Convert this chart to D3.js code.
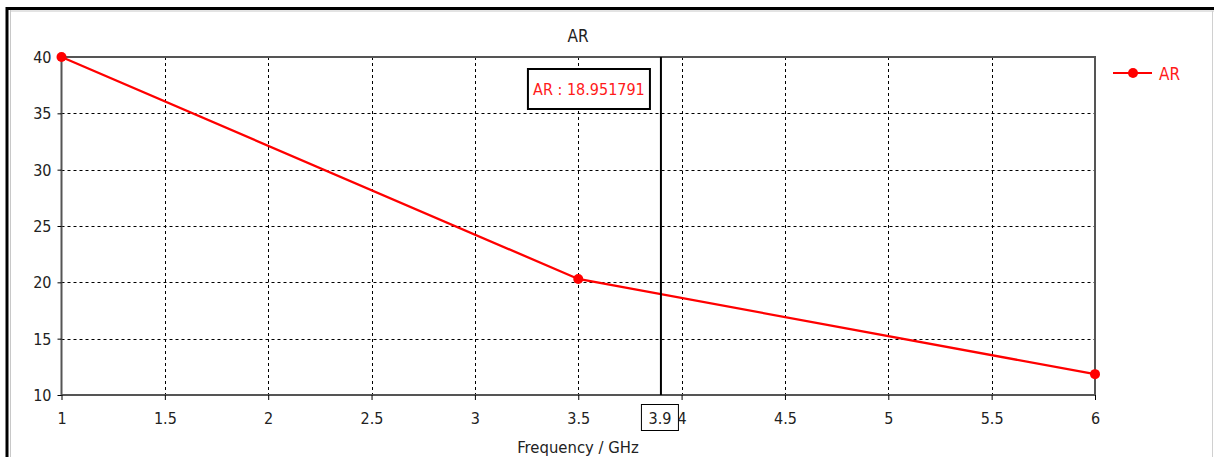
<!DOCTYPE html>
<html>
<head>
<meta charset="utf-8">
<script src="https://cdn.jsdelivr.net/npm/d3@7/dist/d3.min.js"></script>
<style>
  html, body { margin: 0; padding: 0; background: #fff; }
  svg { display: block; }
  text { font-family: "DejaVu Sans Condensed", "DejaVu Sans", sans-serif; }
</style>
</head>
<body>
<svg id="chart" width="1214" height="457"></svg>
<script>
// AR versus frequency
const freq = [1, 3.5, 6];
const arValues = [40, 20.3, 11.85];
const xTicks = [1, 1.5, 2, 2.5, 3, 3.5, 4, 4.5, 5, 5.5, 6];
const yTicks = [10, 15, 20, 25, 30, 35, 40];
const markerFreq = [3.9];
const markerValue = [18.951791];

const svg = d3.select("#chart");
const W = 1214, H = 457;
const plot = { left: 61.5, right: 1095, top: 57, bottom: 395 };

// window frame
svg.append("rect").attr("x", 7).attr("y", 8.5).attr("width", W).attr("height", H)
  .attr("fill", "none").attr("stroke", "#000").attr("stroke-width", 3);
svg.append("line").attr("x1", 10.5).attr("x2", 10.5).attr("y1", 10).attr("y2", H)
  .attr("stroke", "#c8c8c8").attr("stroke-width", 1);
svg.append("line").attr("x1", 10).attr("x2", W).attr("y1", 11).attr("y2", 11)
  .attr("stroke", "#c8c8c8").attr("stroke-width", 1);
svg.append("line").attr("x1", 1212.5).attr("x2", 1212.5).attr("y1", 11).attr("y2", H)
  .attr("stroke", "#d0d0d0").attr("stroke-width", 1);

const x = d3.scaleLinear().domain([1, 6]).range([plot.left, plot.right]);
const y = d3.scaleLinear().domain([10, 40]).range([plot.bottom, plot.top]);

// dashed grid
const grid = svg.append("g");
grid.selectAll(".gx").data(xTicks.slice(1, -1)).enter().append("line")
  .attr("x1", d => Math.round(x(d)) + 0.5).attr("x2", d => Math.round(x(d)) + 0.5)
  .attr("y1", plot.top).attr("y2", plot.bottom)
  .attr("stroke", "#000").attr("stroke-width", 1).attr("stroke-dasharray", "3,3");
grid.selectAll(".gy").data(yTicks.slice(1, -1)).enter().append("line")
  .attr("x1", plot.left).attr("x2", plot.right)
  .attr("y1", d => Math.round(y(d)) + 0.5).attr("y2", d => Math.round(y(d)) + 0.5)
  .attr("stroke", "#000").attr("stroke-width", 1).attr("stroke-dasharray", "3,3");

// plot border
svg.append("rect").attr("x", plot.left).attr("y", plot.top)
  .attr("width", plot.right - plot.left).attr("height", plot.bottom - plot.top)
  .attr("fill", "none").attr("stroke", "#555").attr("stroke-width", 2);

// axes
const xAxis = svg.append("g").attr("transform", `translate(0,${plot.bottom})`)
  .call(d3.axisBottom(x).tickValues(xTicks).tickSize(5).tickSizeOuter(0).tickPadding(13)
    .tickFormat(d3.format("")));
xAxis.select(".domain").remove();
xAxis.selectAll("line").attr("stroke", "#000");
xAxis.selectAll("text").attr("font-size", 16).attr("fill", "#222").attr("dy", "0.71em");

const yAxis = svg.append("g").attr("transform", `translate(${plot.left},0)`)
  .call(d3.axisLeft(y).tickValues(yTicks).tickSize(4).tickSizeOuter(0).tickPadding(6));
yAxis.select(".domain").remove();
yAxis.selectAll("line").attr("stroke", "#000");
yAxis.selectAll("text").attr("font-size", 16).attr("fill", "#222").attr("dy", "0.35em");

// titles
svg.append("text").attr("x", 578).attr("y", 42).attr("text-anchor", "middle")
  .attr("font-size", 17).attr("fill", "#222").text("AR");
svg.append("text").attr("x", 578).attr("y", 453).attr("text-anchor", "middle")
  .attr("font-size", 16.5).attr("fill", "#222").text("Frequency / GHz");

// series
const pts = freq.map((f, i) => [f, arValues[i]]);
svg.append("path").datum(pts)
  .attr("d", d3.line().x(d => x(d[0])).y(d => y(d[1])))
  .attr("fill", "none").attr("stroke", "#ff0000").attr("stroke-width", 2.3);
svg.selectAll(".pt").data(pts).enter().append("circle")
  .attr("cx", d => x(d[0])).attr("cy", d => y(d[1])).attr("r", 5)
  .attr("fill", "#ff0000");

// marker line and readout
const mx = x(markerFreq[0]);
svg.append("line").attr("x1", mx).attr("x2", mx).attr("y1", plot.top).attr("y2", plot.bottom)
  .attr("stroke", "#000").attr("stroke-width", 2);

const box = svg.append("g");
box.append("rect").attr("x", mx - 133).attr("y", 69).attr("width", 122).attr("height", 40)
  .attr("fill", "#fff").attr("stroke", "#000").attr("stroke-width", 2);
box.append("text").attr("x", mx - 72).attr("y", 95).attr("text-anchor", "middle")
  .attr("font-size", 16).attr("fill", "#ff1a1a")
  .text("AR : " + d3.format(".6f")(markerValue[0]));

const fb = svg.append("g");
fb.append("rect").attr("x", mx - 19.5).attr("y", 404.5).attr("width", 37).attr("height", 26)
  .attr("fill", "#fff").attr("stroke", "#000").attr("stroke-width", 1);
fb.append("text").attr("x", mx - 1).attr("y", 424).attr("text-anchor", "middle")
  .attr("font-size", 16).attr("fill", "#222").text(markerFreq[0]);

// legend
const lg = svg.append("g");
lg.append("line").attr("x1", 1113).attr("x2", 1152).attr("y1", 73).attr("y2", 73)
  .attr("stroke", "#ff0000").attr("stroke-width", 2);
lg.append("circle").attr("cx", 1133).attr("cy", 73).attr("r", 5).attr("fill", "#ff0000");
lg.append("text").attr("x", 1159).attr("y", 80).attr("font-size", 17).attr("fill", "#ff1a1a").text("AR");
</script>
</body>
</html>
